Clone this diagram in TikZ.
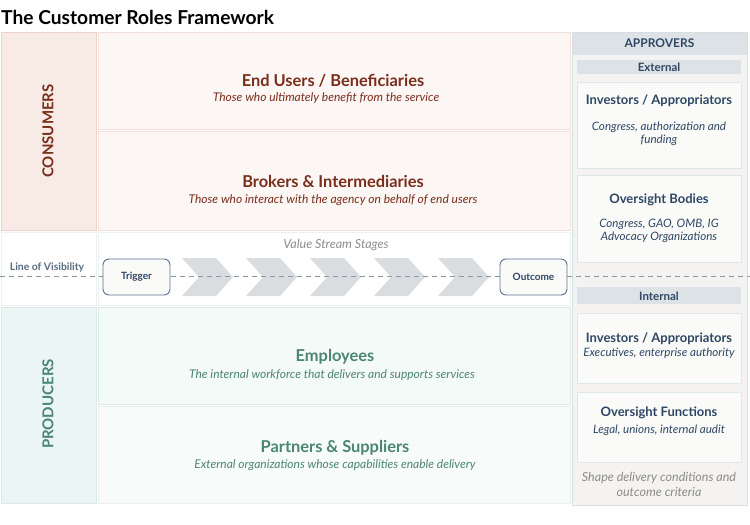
\documentclass[tikz,border=0pt]{standalone}
\usepackage{fontspec}
\setmainfont{Lato}
\usetikzlibrary{positioning}

\definecolor{consfill}{HTML}{F8EBE5}
\definecolor{consdraw}{HTML}{EDD3CA}
\definecolor{consrow}{HTML}{FCF6F5}
\definecolor{consline}{HTML}{F3DFDA}
\definecolor{constext}{HTML}{7A2E1B}
\definecolor{prodfill}{HTML}{EAF5F4}
\definecolor{proddraw}{HTML}{DCEBEA}
\definecolor{prodrow}{HTML}{F4FAF8}
\definecolor{prodtext}{HTML}{4B8573}
\definecolor{apprbg}{HTML}{F4F3F1}
\definecolor{apprdraw}{HTML}{D8DEE2}
\definecolor{apprband}{HTML}{DDE2E6}
\definecolor{apprtext}{HTML}{2E4764}
\definecolor{cardfill}{HTML}{FAFAF8}
\definecolor{carddraw}{HTML}{E0E5E6}
\definecolor{chevgrey}{HTML}{DADDE0}
\definecolor{softgrey}{HTML}{8C8C8C}
\definecolor{visline}{HTML}{8A97A5}
\definecolor{stagedraw}{HTML}{5B7291}

\begin{document}
\begin{tikzpicture}[x=1pt,y=-1pt,
    rowtitle/.style={font=\bfseries\fontsize{16.4}{18}\selectfont},
    rowsub/.style={font=\itshape\fontsize{12}{14}\selectfont},
    sidelabel/.style={rotate=90,font=\bfseries\fontsize{15}{17}\selectfont},
    cardtitle/.style={font=\bfseries\fontsize{13}{15}\selectfont,text=apprtext},
    cardsub/.style={font=\itshape\fontsize{11.6}{12.5}\selectfont,text=apprtext,align=center},
    stagebox/.style={draw=stagedraw,fill=cardfill,rounded corners=6pt,line width=0.9pt,
        minimum width=67pt,minimum height=36pt,font=\bfseries\fontsize{10}{11}\selectfont,text=apprtext}]

    \useasboundingbox (0,0) rectangle (750,525);

    % Title
    \node[anchor=west,inner sep=0pt,font=\bfseries\fontsize{19.2}{21}\selectfont] (title) at (1,17) {The Customer Roles Framework};

    % Consumers band
    \draw[fill=consfill,draw=consdraw,line width=1pt] (1,32) rectangle (96,230);
    \draw[fill=consrow,draw=consline,line width=1pt] (98,32) rectangle (570,129);
    \draw[fill=consrow,draw=consline,line width=1pt] (98,131) rectangle (570,230);
    \node[sidelabel,text=constext] (consumers) at (48,131) {CONSUMERS};
    \node[rowtitle,text=constext] (endusers) at (333,81) {End Users / Beneficiaries};
    \node[rowsub,text=constext] (endusersub) at (326,98) {Those who ultimately benefit from the service};
    \node[rowtitle,text=constext] (brokers) at (333,181) {Brokers \& Intermediaries};
    \node[rowsub,text=constext] (brokersub) at (333,200) {Those who interact with the agency on behalf of end users};

    % Line of visibility row
    \draw[fill=white,draw=proddraw!60,line width=1pt] (1,232) rectangle (96,305);
    \draw[fill=white,draw=proddraw!60,line width=1pt] (98,232) rectangle (570,305);
    \node[font=\bfseries\fontsize{10.4}{12}\selectfont,text=apprtext!80] (vislabel) at (47,268) {Line of Visibility};
    \node[font=\itshape\fontsize{12.5}{14}\selectfont,text=softgrey] (stages) at (336,245) {Value Stream Stages};
    \coordinate (visleft) at (0,276);
    \coordinate (visright) at (750,276);

    % Chevrons
    \foreach \i in {0,...,4} {
        \begin{scope}[xshift=182+64*\i]
            \fill[chevgrey] (0,258) -- (34,258) -- (51,277) -- (34,296) -- (0,296) -- (17,277) -- cycle;
        \end{scope}
    }

    % Approvers column
    \draw[fill=apprbg,draw=apprdraw,line width=1pt] (572,32) rectangle (747,505);
    \fill[apprband] (572.5,32.5) rectangle (746.5,55);
    \node[font=\bfseries\fontsize{12}{14}\selectfont,text=apprtext] (approvers) at (659.5,43.5) {APPROVERS};

    \fill[apprband] (577,60) rectangle (741,74);
    \node[font=\bfseries\fontsize{11.5}{13}\selectfont,text=apprtext] (external) at (659,67) {External};
    \draw[fill=cardfill,draw=carddraw,line width=1pt] (577,82) rectangle (741,168);
    \node[cardtitle] (extinvest) at (659,101) {Investors / Appropriators};
    \node[cardsub] (extinvestsub) at (659,134) {Congress, authorization and\\funding};
    \draw[fill=cardfill,draw=carddraw,line width=1pt] (577,175) rectangle (741,262);
    \node[cardtitle] (extover) at (659,200) {Oversight Bodies};
    \node[cardsub] (extoversub) at (659,231) {Congress, GAO, OMB, IG\\Advocacy Organizations};

    % dashed line across everything
    \draw[visline,dashed,dash pattern=on 5pt off 4pt,line width=1pt] (visleft) -- (visright);

    % Trigger and outcome
    \node[stagebox] (trigger) at (136.5,277) {Trigger};
    \node[stagebox] (outcome) at (533.5,277) {Outcome};

    \fill[apprband] (577,287) rectangle (741,304);
    \node[font=\bfseries\fontsize{11.5}{13}\selectfont,text=apprtext] (internal) at (659,296) {Internal};
    \draw[fill=cardfill,draw=proddraw,line width=1pt] (577,313) rectangle (741,383);
    \node[cardtitle] (intinvest) at (659,339) {Investors / Appropriators};
    \node[cardsub] (intinvestsub) at (659,353) {Executives, enterprise authority};
    \draw[fill=cardfill,draw=proddraw,line width=1pt] (577,392) rectangle (741,462);
    \node[cardtitle] (intover) at (659,413) {Oversight Functions};
    \node[cardsub] (intoversub) at (659,430) {Legal, unions, internal audit};
    \node[font=\itshape\fontsize{12.5}{15}\selectfont,text=softgrey,align=center] (shape) at (659,484) {Shape delivery conditions and\\outcome criteria};

    % Producers band
    \draw[fill=prodfill,draw=proddraw,line width=1pt] (1,307) rectangle (96,503);
    \draw[fill=prodrow,draw=proddraw,line width=1pt] (98,307) rectangle (570,404);
    \draw[fill=prodrow!70!white,draw=proddraw!70,line width=1pt] (98,406) rectangle (570,503);
    \node[sidelabel,text=prodtext] (producers) at (48,404) {PRODUCERS};
    \node[rowtitle,text=prodtext] (employees) at (335,357) {Employees};
    \node[rowsub,text=prodtext] (employeesub) at (332,375) {The internal workforce that delivers and supports services};
    \node[rowtitle,text=prodtext] (partners) at (335,448) {Partners \& Suppliers};
    \node[rowsub,text=prodtext] (partnersub) at (335,465) {External organizations whose capabilities enable delivery};

\end{tikzpicture}
\end{document}
